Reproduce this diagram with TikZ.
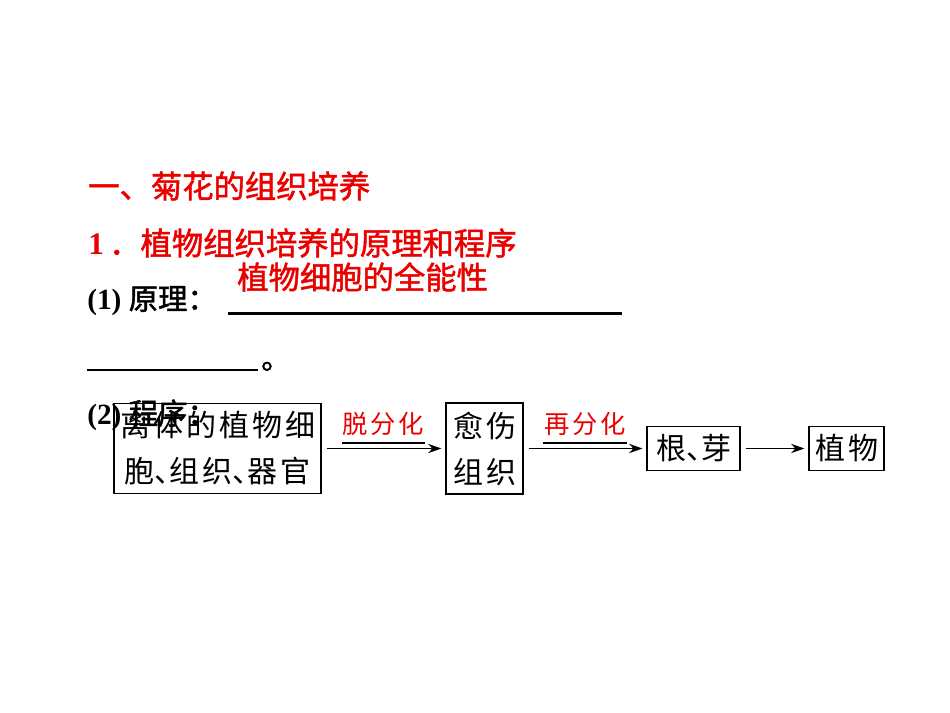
\documentclass[tikz,border=0pt]{standalone}
\usepackage{fontspec}
\setmainfont{Liberation Serif}
\newfontfamily\cjk{Noto Sans CJK SC}
\newfontfamily\cjkm[FakeBold=1.6]{Noto Sans CJK SC}
\newfontfamily\cjksp[LetterSpace=10]{Noto Sans CJK SC}
\usetikzlibrary{arrows.meta}
\definecolor{rd}{RGB}{235,0,0}
\newcommand\dn{\makebox[0.5em][l]{、}}
\begin{document}
\begin{tikzpicture}[x=0.75pt,y=-0.75pt,
  txt/.style={inner sep=0pt, anchor=west},
  redhead/.style={txt, text=rd, font=\cjkm\fontsize{23.5}{28}\selectfont},
  blk/.style={txt, font=\bfseries\fontsize{22}{26}\selectfont},
  box/.style={draw, line width=0.9pt, inner sep=0pt, align=center,
    font=\cjksp\fontsize{22.5}{34.5}\selectfont},
  lab/.style={inner sep=0pt, text=rd, font=\cjksp\fontsize{19}{22}\selectfont,
    minimum width=62.25pt, minimum height=28.5pt},
  arr/.style={-{Stealth[length=10pt,width=7pt]}, line width=0.8pt,
    shorten <=3.75pt, shorten >=3pt},
  blank/.style={line width=1.6pt},
  ul/.style={line width=1.5pt}
]
\useasboundingbox (0,0) rectangle (950,713);

% headings
\node[redhead] (t1) at (88,186) {一、菊花的组织培养};
\node[redhead] (t2) at (88,243) {{\rmfamily\bfseries 1}\hspace{4pt}．植物组织培养的原理和程序};
\node[redhead] (ans) at (237,277) {植物细胞的全能性};

% (1)
\node[blk] (p1) at (87,301) {(1) {\mdseries\cjkm 原理：}};
\coordinate (u1a) at (228,313.5);
\coordinate (u1b) at (622,313.5);
\draw[blank] (u1a) -- (u1b);
\coordinate (u2a) at (87,370);
\coordinate (u2b) at (258,370);
\draw[blank] (u2a) -- (u2b);
\node[inner sep=0pt, anchor=base west, font=\cjkm\fontsize{22}{26}\selectfont] (dot) at (261,369) {。};

% (2)
\node[blk] (p2) at (87,415) {(2) {\mdseries\cjkm 程序：}};

% flow boxes
\node[box, minimum width=155.25pt, minimum height=67.5pt] (b1) at (217.5,448.5)
  {离体的植物细\\胞\dn{}组织\dn{}器官};
\node[box, minimum width=57.75pt, minimum height=68.25pt] (b2) at (484.5,448.5)
  {愈伤\\组织};
\node[box, minimum width=69.75pt, minimum height=33pt] (b3) at (693.5,448.5)
  {根\dn{}芽};
\node[box, minimum width=56.25pt, minimum height=33pt] (b4) at (846.5,448.5)
  {植物};

% arrows
\draw[arr] (b1.east) -- (b2.west);
\draw[arr] (b2.east) -- (b3.west);
\draw[arr] (b3.east) -- (b4.west);

% labels with underline
\node[lab] (l1) at (383.5,423.5) {脱分化};
\draw[ul] (l1.south west) -- (l1.south east);
\node[lab] (l2) at (585,423.5) {再分化};
\draw[ul] (l2.south west) -- (l2.south east);
\end{tikzpicture}
\end{document}
